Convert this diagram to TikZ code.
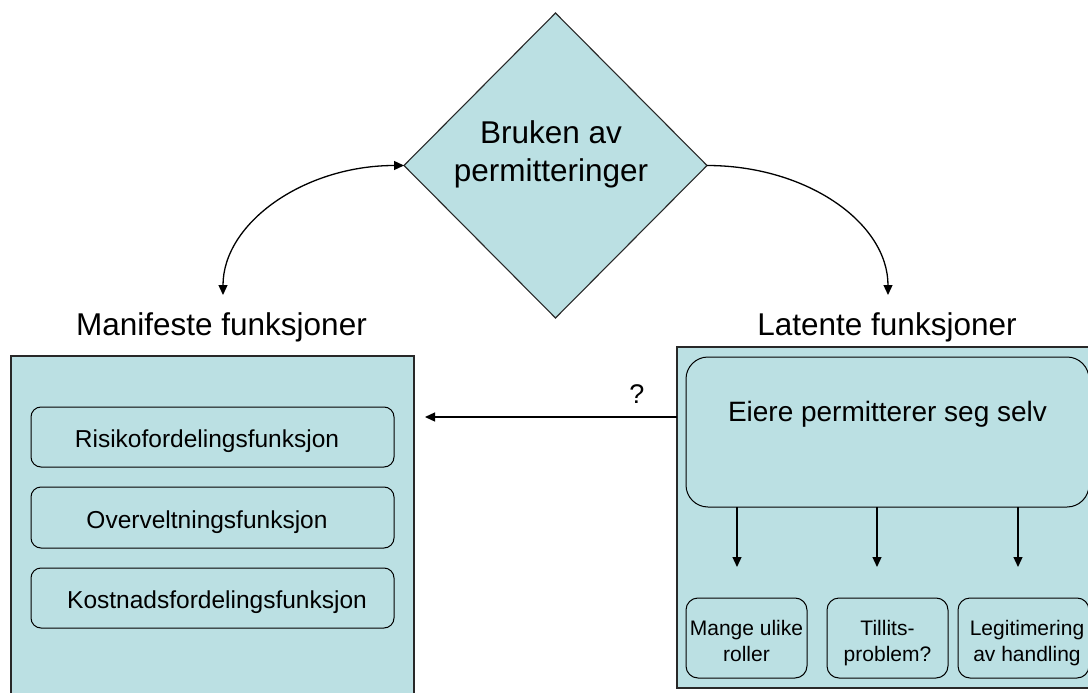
\documentclass[tikz,border=0pt]{standalone}
\usepackage{fontspec}
\setmainfont{Liberation Sans}
\usetikzlibrary{shapes.geometric,arrows.meta}
\definecolor{boxfill}{RGB}{187,224,227}
\definecolor{boxline}{RGB}{40,40,40}
\begin{document}
\begin{tikzpicture}[x=1pt,y=-1pt,
  bigbox/.style={draw=boxline,fill=boxfill,line width=1.1pt,minimum width=#1,inner sep=0pt,outer sep=0pt},
  ibox/.style={draw=black,fill=boxfill,line width=1pt,rounded corners=10pt,inner sep=0pt,outer sep=0pt},
  arr/.style={line width=1.3pt,-{Triangle[length=10pt,width=9pt]}},
  dblarr/.style={line width=1.3pt,{Triangle[length=10pt,width=9pt]}-{Triangle[length=10pt,width=9pt]}},
  ttl/.style={font=\fontsize{31.5}{36}\selectfont,anchor=base,inner sep=0pt},
  itxt/.style={font=\fontsize{24.5}{29}\selectfont,anchor=base,inner sep=0pt},
  stxt/.style={font=\fontsize{21}{26}\selectfont,align=center,inner sep=0pt,text height=41.5pt,text depth=4.5pt}]
\useasboundingbox (0,0) rectangle (1088,693);
\clip (0,0) rectangle (1088,693);

% diamond
\node[draw=boxline,fill=boxfill,line width=1.1pt,shape=diamond,minimum width=303pt,minimum height=305pt,inner sep=0pt,outer sep=0pt] (dia) at (555.5,165.5) {};
\node[font=\fontsize{31.5}{38}\selectfont,align=center,inner sep=0pt,text height=61pt,text depth=6.6pt] (dlabel) at (551,153.8) {Bruken av\\permitteringer};

% titles
\node[ttl] (mtitle) at (221.5,335) {Manifeste funksjoner};
\node[ttl] (ltitle) at (887,335) {Latente funksjoner};

% arcs
\coordinate (c1) at (223,295);
\coordinate (c2) at (888,295);
\draw[dblarr] (dia.west) .. controls +(-100,0) and +(0,-72) .. (c1);
\draw[arr] (dia.east) .. controls +(100,0) and +(0,-72) .. (c2);

% left big box
\node[bigbox=403pt,minimum height=354pt] (LB) at (212.5,533) {};
\node[ibox,minimum width=363pt,minimum height=60pt] (r1) at (212.5,437) {};
\node[ibox,minimum width=363pt,minimum height=61pt] (r2) at (212.5,517.5) {};
\node[ibox,minimum width=363pt,minimum height=60pt] (r3) at (212.5,598) {};
\node[itxt] (r1t) at (207,447) {Risikofordelingsfunksjon};
\node[itxt] (r2t) at (207,528) {Overveltningsfunksjon};
\node[itxt] (r3t) at (217,608) {Kostnadsfordelingsfunksjon};

% right big box
\node[bigbox=423pt,minimum height=341pt] (RB) at (888.5,517.5) {};
\node[ibox,rounded corners=22pt,minimum width=403pt,minimum height=150pt] (E) at (887.5,432) {};
\node[font=\fontsize{28}{33}\selectfont,anchor=base,inner sep=0pt] (Et) at (887.5,421) {Eiere permitterer seg selv};

\node[ibox,rounded corners=12pt,minimum width=121pt,minimum height=80pt] (s1) at (746.5,638) {};
\node[ibox,rounded corners=12pt,minimum width=121pt,minimum height=80pt] (s2) at (887.5,638) {};
\node[ibox,rounded corners=12pt,minimum width=131pt,minimum height=80pt] (s3) at (1023.5,638) {};
\node[stxt] (s1t) at (746.5,642.5) {Mange ulike\\roller};
\node[stxt] (s2t) at (887.5,642.5) {Tillits-\\problem?};
\node[stxt] (s3t) at (1027,642.5) {Legitimering\\av handling};

\coordinate (a1) at (737,567);
\coordinate (a2) at (877,567);
\coordinate (a3) at (1018,567);
\draw[arr] (E.south -| a1) -- (a1);
\draw[arr] (E.south -| a2) -- (a2);
\draw[arr] (E.south -| a3) -- (a3);

% question arrow
\coordinate (q) at (425,417);
\draw[arr] (RB.west |- q) -- (q);
\node[font=\fontsize{27}{32}\selectfont,anchor=base,inner sep=0pt] (qm) at (637,403) {?};
\end{tikzpicture}
\end{document}
